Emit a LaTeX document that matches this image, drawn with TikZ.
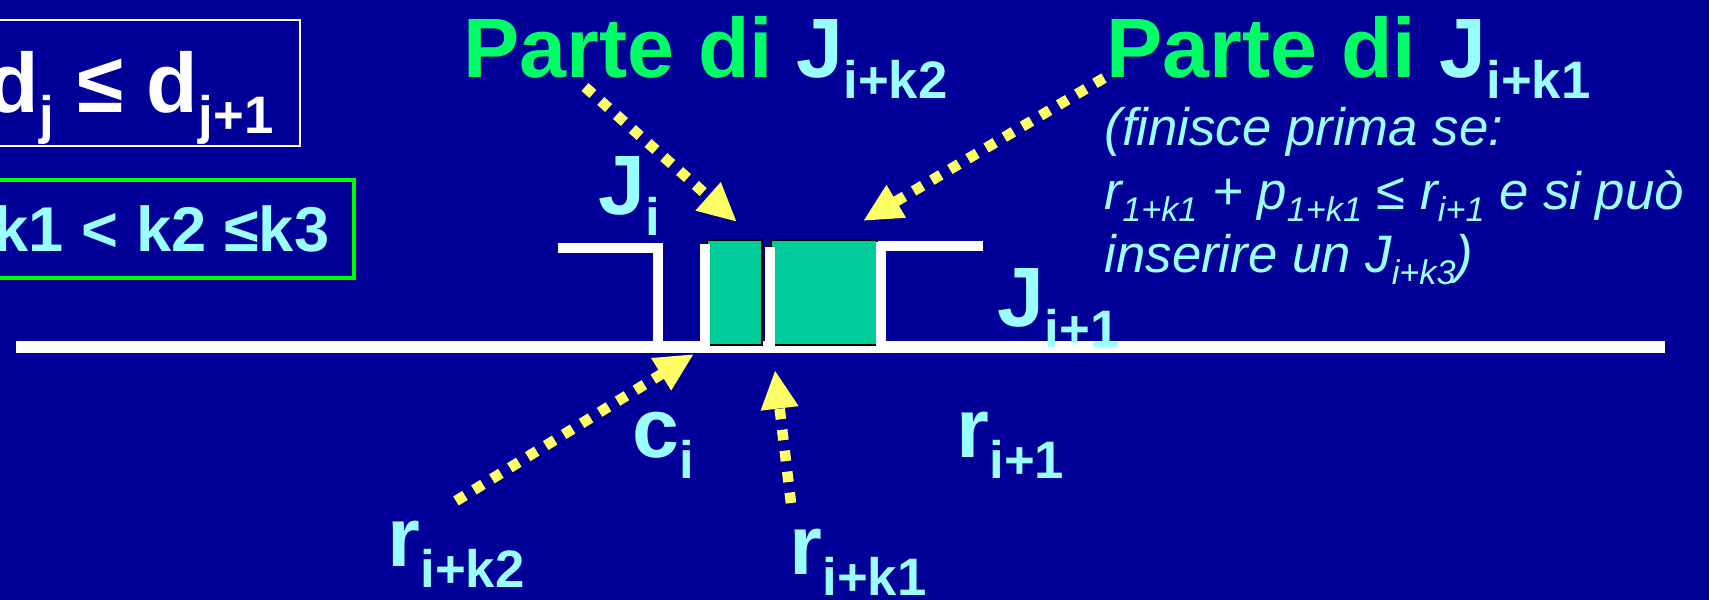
\documentclass[tikz,border=0pt]{standalone}
\usepackage{fontspec}
\setmainfont{Liberation Sans}
\usepackage{tikz}
\usetikzlibrary{
  arrows.meta,
  positioning
}
\usepackage{xcolor}
\definecolor{slide}{HTML}{000099}
\definecolor{pale}{HTML}{99FFFF}
\definecolor{titlegreen}{HTML}{00FF66}
\definecolor{boxgreen}{HTML}{00FF00}
\definecolor{ptryellow}{HTML}{FFFF66}
\definecolor{chunk}{HTML}{00CC99}
\newcommand{\bsub}[1]{\raisebox{-5.7pt}{\fontsize{15}{15}\selectfont #1}}
\newcommand{\isub}[1]{\raisebox{-3.3pt}{\fontsize{9.75}{10}\selectfont #1}}

\begin{document}
\begin{tikzpicture}[
  x=0.1mm, y=-0.1mm,
  big/.style={font=\fontsize{24}{28}\selectfont\bfseries, text=pale, inner sep=0pt, anchor=base west},
  note/.style={font=\fontsize{15}{18}\selectfont\itshape, text=pale, inner sep=0pt, anchor=base west},
  job/.style={draw=white, line width=3.1pt},
  piece/.style={fill=chunk, draw=black, line width=0.8pt},
  pointer/.style={draw=ptryellow, line width=3pt, dash pattern=on 3pt off 3pt, -{Triangle[length=11pt,width=10pt]}}
]
  % Slide background
  \useasboundingbox (0,0) rectangle (1709,600);
  \fill[slide] (0,0) rectangle (1709,600);

  % Conditions
  \node[big, text=white] (dd) at (-13,113) {d\bsub{j} ≤ d\bsub{j+1}};
  \draw[white, line width=0.6pt] (-20,20) rectangle (300,146);
  \node[font=\fontsize{18}{22}\selectfont\bfseries, text=pale, inner sep=0pt, anchor=base east] (kk) at (330,252) {k1 < k2 ≤k3};
  \draw[boxgreen, line width=1pt] (-20,180) rectangle (354,278);

  % Time axis
  \draw[white, line width=3.4pt] (16,347) -- (1665,347);

  % Jobs J_i and J_{i+1}
  \draw[job] (558,248) -- (658,248) -- (658,347);
  \draw[job] (983,246) -- (881,246) -- (881,347);

  % Inserted parts
  \fill[piece] (707,240) rectangle (762,345);
  \fill[piece] (771,240) rectangle (877,345);
  \draw[job] (705,244) -- (705,347);
  \draw[job] (770,247) -- (770,347);
  \draw[job] (881,242) -- (881,347);

  % Labels
  \node[big, text=titlegreen] (pk2) at (463,78) {Parte di \textcolor{pale}{J\bsub{i+k2}}};
  \node[big, text=titlegreen] (pk1) at (1106,78) {Parte di \textcolor{pale}{J\bsub{i+k1}}};
  \node[note] (why1) at (1104,146) {(finisce prima se:};
  \node[note] (why2) at (1104,210) {r\isub{1+k1} + p\isub{1+k1} ≤ r\isub{i+1} e si può};
  \node[note] (why3) at (1104,273) {inserire un J\isub{i+k3})};
  \node[big] (ji) at (598,215) {J\bsub{i}};
  \node[big] (jnext) at (997,327) {J\bsub{i+1}};
  \node[big] (ci) at (632,458) {c\bsub{i}};
  \node[big] (rnext) at (956,458) {r\bsub{i+1}};
  \node[big] (rk2) at (387,567) {r\bsub{i+k2}};
  \node[big] (rk1) at (789,575) {r\bsub{i+k1}};

  % Arrows
  \coordinate (k2from) at (585,87);
  \coordinate (k2to) at (737,222);
  \coordinate (k1from) at (1104,78);
  \coordinate (k1to) at (863,221);
  \coordinate (rk2from) at (456,501);
  \coordinate (rk2to) at (694,354);
  \coordinate (rk1from) at (791,503);
  \coordinate (rk1to) at (775,370);
  \draw[pointer] (k2from) -- (k2to);
  \draw[pointer] (k1from) -- (k1to);
  \draw[pointer] (rk2from) -- (rk2to);
  \draw[pointer] (rk1from) -- (rk1to);
\end{tikzpicture}
\end{document}
